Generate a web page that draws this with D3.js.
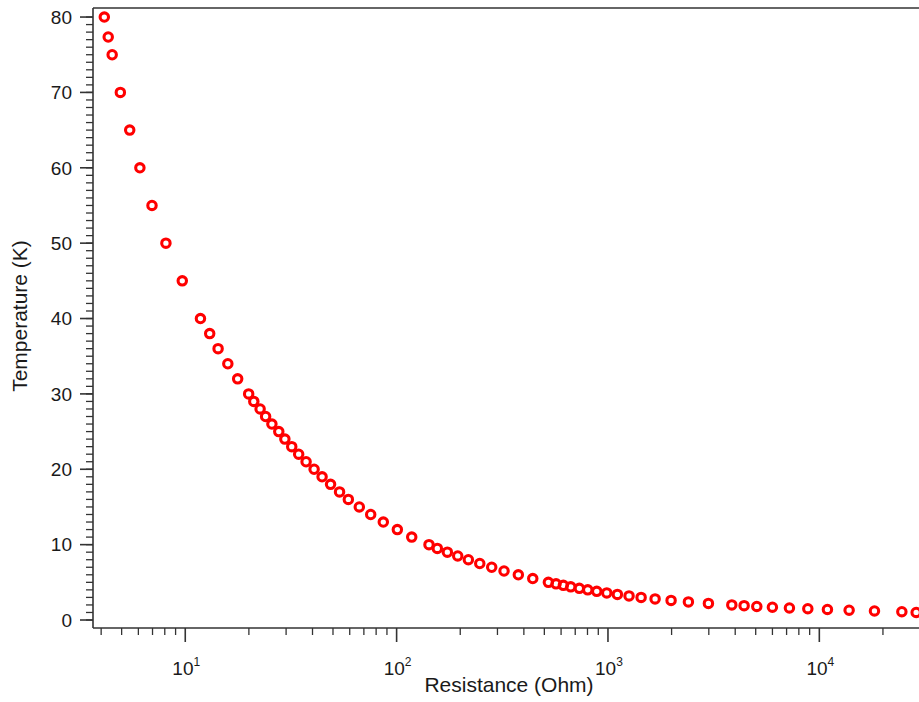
<!DOCTYPE html>
<html>
<head>
<meta charset="utf-8">
<script src="https://cdn.jsdelivr.net/npm/d3@7"></script>
<style>
  html, body { margin: 0; padding: 0; background: #fff; }
  svg { display: block; }
  text { font-family: "Liberation Sans", Arial, sans-serif; fill: #1a1a1a; }
</style>
</head>
<body>
<svg id="chart" width="919" height="702"></svg>
<script>
const temperature = [80, 77.35, 75, 70, 65, 60, 55, 50, 45, 40,
  38, 36, 34, 32, 30, 29, 28, 27, 26, 25, 24, 23, 22, 21, 20,
  19, 18, 17, 16, 15, 14, 13, 12, 11, 10,
  9.5, 9, 8.5, 8, 7.5, 7, 6.5, 6, 5.5, 5,
  4.8, 4.6, 4.4, 4.2, 4.0, 3.8, 3.6, 3.4, 3.2, 3.0,
  2.8, 2.6, 2.4, 2.2, 2.0,
  1.9, 1.8, 1.7, 1.6, 1.5, 1.4, 1.3, 1.2, 1.1, 1.0];
const resistance = [4.14, 4.32, 4.51, 4.93, 5.46, 6.10, 6.96, 8.10, 9.68, 11.8,
  13.05, 14.3, 15.9, 17.7, 19.95, 21.1, 22.6, 24.0, 25.7, 27.7, 29.6, 31.9, 34.4, 37.3, 40.7,
  44.4, 48.7, 53.7, 59.1, 66.6, 75.4, 86.5, 100.8, 117.9, 142.3,
  155.8, 173.8, 194.6, 218.5, 247.4, 281.8, 322.3, 376.6, 440.7, 522.4,
  568.1, 615.0, 666.8, 732.0, 802.4, 885.1, 987.0, 1108, 1258, 1435,
  1671, 1989, 2402, 2987, 3854,
  4407, 5060, 5998, 7220, 8822, 10924, 13836, 18236, 24573, 28718];
const yTicks = [0, 10, 20, 30, 40, 50, 60, 70, 80];
const xTicks = [10, 100, 1000, 10000];
const xTickExponents = ["1", "2", "3", "4"];
const xTitle = "Resistance (Ohm)";
const yTitle = "Temperature (K)";

const svg = d3.select("#chart");
const mLeft = 93, mTop = 8, mRight = 925, mBottom = 628;
const axisColor = "#333";

const x = d3.scaleLog().domain([3.66, 31623]).range([mLeft, mRight]);
const y = d3.scaleLinear().domain([-1.06, 81.2]).range([mBottom, mTop]);

// frame line at top
svg.append("line").attr("x1", mLeft).attr("x2", mRight).attr("y1", mTop).attr("y2", mTop)
  .attr("stroke", axisColor).attr("stroke-width", 1.6);

// Y axis
const yMinor = d3.range(0, 81, 1);
const gy = svg.append("g");
gy.selectAll("line.minor").data(yMinor).join("line").attr("class", "minor")
  .attr("x1", mLeft - 7).attr("x2", mLeft)
  .attr("y1", d => y(d)).attr("y2", d => y(d))
  .attr("stroke", axisColor).attr("stroke-width", 1.3);
gy.selectAll("line.major").data(yTicks).join("line").attr("class", "major")
  .attr("x1", mLeft - 13).attr("x2", mLeft)
  .attr("y1", d => y(d)).attr("y2", d => y(d))
  .attr("stroke", axisColor).attr("stroke-width", 1.6);
gy.selectAll("text").data(yTicks).join("text")
  .attr("x", mLeft - 21).attr("y", d => y(d)).attr("dy", "0.36em")
  .attr("text-anchor", "end").attr("font-size", 19)
  .text(d => d);
gy.append("line").attr("x1", mLeft).attr("x2", mLeft).attr("y1", mTop).attr("y2", mBottom)
  .attr("stroke", axisColor).attr("stroke-width", 1.6);

// X axis (log)
const xMinor = [];
[1, 10, 100, 1000, 10000].forEach(dec => {
  for (let m = 2; m <= 9; m++) {
    const v = dec * m;
    if (v >= x.domain()[0] && v <= x.domain()[1]) xMinor.push(v);
  }
});
const gx = svg.append("g");
gx.selectAll("line.minor").data(xMinor).join("line").attr("class", "minor")
  .attr("x1", d => x(d)).attr("x2", d => x(d))
  .attr("y1", mBottom).attr("y2", mBottom + 7)
  .attr("stroke", axisColor).attr("stroke-width", 1.3);
gx.selectAll("line.major").data(xTicks).join("line").attr("class", "major")
  .attr("x1", d => x(d)).attr("x2", d => x(d))
  .attr("y1", mBottom).attr("y2", mBottom + 14)
  .attr("stroke", axisColor).attr("stroke-width", 1.6);
const xl = gx.selectAll("text").data(xTicks).join("text")
  .attr("x", d => x(d) + 1).attr("y", mBottom + 47)
  .attr("text-anchor", "middle").attr("font-size", 19);
xl.append("tspan").text("10");
xl.append("tspan").attr("dy", -9).attr("font-size", 12).text((d, i) => xTickExponents[i]);
gx.append("line").attr("x1", mLeft).attr("x2", mRight).attr("y1", mBottom).attr("y2", mBottom)
  .attr("stroke", axisColor).attr("stroke-width", 1.6);

// titles
svg.append("text").attr("x", 509).attr("y", 692).attr("text-anchor", "middle")
  .attr("font-size", 21).text(xTitle);
svg.append("text").attr("transform", "translate(27,316) rotate(-90)")
  .attr("text-anchor", "middle").attr("font-size", 21).text(yTitle);

// points
svg.append("g").selectAll("circle").data(resistance).join("circle")
  .attr("cx", d => x(d)).attr("cy", (d, i) => y(temperature[i]))
  .attr("r", 4.2).attr("fill", "none").attr("stroke", "#ff0000").attr("stroke-width", 3.1);
</script>
</body>
</html>
